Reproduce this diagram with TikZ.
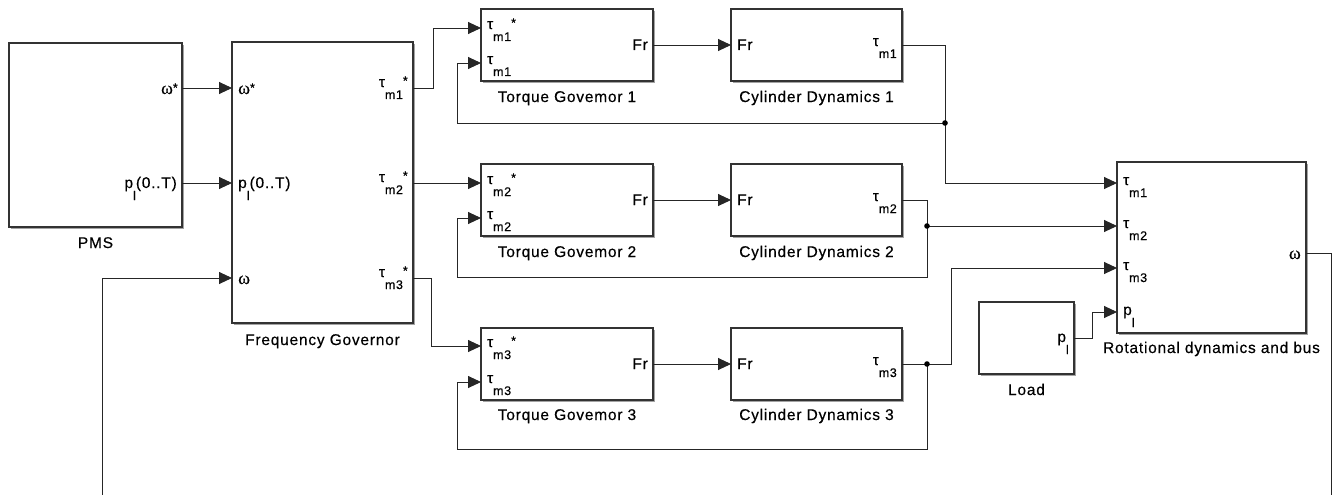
\documentclass[tikz,border=0pt]{standalone}
\usepackage{fontspec}
\setmainfont[LetterSpace=5,FakeBold=0.35]{Liberation Sans}
\newfontfamily\grk[FakeBold=0.35]{Liberation Serif}
\usetikzlibrary{arrows.meta,shadows}
\newcommand\sbx[1]{\raisebox{-12pt}{\fontsize{12.5}{12.5}\selectfont #1}}
\newcommand\spx[1]{\raisebox{2pt}{\fontsize{12.5}{12.5}\selectfont #1}}
\newcommand\tport[2]{{\fontsize{15}{15}\selectfont τ}\sbx{m#1}#2}
\newcommand\omg{{\grk\fontsize{18}{18}\selectfont ω}}
\newcommand\wstar{\omg\spx{*}}
\newcommand\mkblk[5]{\node[blk, anchor=north west, minimum width={#4-#2}, minimum height={#5-#3}] (#1) at (#2,#3) {};}
\begin{document}
\begin{tikzpicture}[x=1pt,y=-1pt,
  font=\fontsize{15.5}{18}\selectfont,
  blk/.style={draw=black!80, line width=1.3pt, fill=white, inner sep=0pt, outer sep=0pt,
    drop shadow={shadow xshift=1.6pt, shadow yshift=-1.6pt, fill=black!60, opacity=0.6}},
  inl/.style={anchor=base west, inner sep=0pt},
  outl/.style={anchor=base east, inner sep=0pt},
  caption/.style={anchor=base, inner sep=0pt},
  wire/.style={line width=0.9pt, draw=black!85},
  arr/.style={wire, -{Triangle[length=13pt,width=12pt]}},
  dot/.style={fill=black}]
\fill[white] (0,0) rectangle (1333,495);
\useasboundingbox (0,0) rectangle (1333,495);

% blocks
\mkblk{pms}{9}{43}{182}{227}
\mkblk{fg}{232}{42}{413}{323}
\mkblk{tg1}{481}{9}{653}{81}
\mkblk{cd1}{731}{9}{902}{81}
\mkblk{tg2}{481}{164}{653}{236}
\mkblk{cd2}{731}{164}{902}{236}
\mkblk{tg3}{481}{328}{653}{400}
\mkblk{cd3}{731}{328}{902}{400}
\mkblk{load}{979}{302}{1074}{374}
\mkblk{rd}{1117}{162}{1306}{333}

% captions
\node[caption] (cpms) at (95.5,248) {PMS};
\node[caption] (cfg) at (322.5,345) {Frequency Governor};
\node[caption] (ctg1) at (567,102) {Torque Govemor 1};
\node[caption] (ccd1) at (816.5,102) {Cylinder Dynamics 1};
\node[caption] (ctg2) at (567,257) {Torque Govemor 2};
\node[caption] (ccd2) at (816.5,257) {Cylinder Dynamics 2};
\node[caption] (ctg3) at (567,420) {Torque Govemor 3};
\node[caption] (ccd3) at (816.5,420) {Cylinder Dynamics 3};
\node[caption] (cload) at (1026.5,395) {Load};
\node[caption] (crd) at (1211.5,353) {Rotational dynamics and bus};

% port labels
\node[outl] (pmso1) at (178,94) {\wstar};
\node[outl] (pmso2) at (177,188) {p\sbx{l}(0..T)};
\node[inl] (fgi1) at (238,94) {\wstar};
\node[inl] (fgi2) at (238,188) {p\sbx{l}(0..T)};
\node[inl] (fgi3) at (238,284) {\omg};
\node[outl] (fgo1) at (408,87) {\tport{1}{\spx{*}}};
\node[outl] (fgo2) at (408,182) {\tport{2}{\spx{*}}};
\node[outl] (fgo3) at (408,277) {\tport{3}{\spx{*}}};
\node[inl] (tg1i1) at (487,29) {\tport{1}{\spx{*}}};
\node[inl] (tg1i2) at (487,64) {\tport{1}{}};
\node[outl] (tg1o) at (648,50) {Fr};
\node[inl] (cd1i) at (737,50) {Fr};
\node[outl] (cd1o) at (897,46) {\tport{1}{}};
\node[inl] (tg2i1) at (487,184) {\tport{2}{\spx{*}}};
\node[inl] (tg2i2) at (487,219) {\tport{2}{}};
\node[outl] (tg2o) at (648,205) {Fr};
\node[inl] (cd2i) at (737,205) {Fr};
\node[outl] (cd2o) at (897,201) {\tport{2}{}};
\node[inl] (tg3i1) at (487,347) {\tport{3}{\spx{*}}};
\node[inl] (tg3i2) at (487,383) {\tport{3}{}};
\node[outl] (tg3o) at (648,369) {Fr};
\node[inl] (cd3i) at (737,369) {Fr};
\node[outl] (cd3o) at (897,365) {\tport{3}{}};
\node[outl] (loado) at (1069,342) {p\sbx{l}};
\node[inl] (rdi1) at (1123,185) {\tport{1}{}};
\node[inl] (rdi2) at (1123,228) {\tport{2}{}};
\node[inl] (rdi3) at (1123,270) {\tport{3}{}};
\node[inl] (rdi4) at (1123,315) {p\sbx{l}};
\node[outl] (rdo) at (1301,259) {\omg};

% junctions and free ends
\coordinate (j1) at (945,123);
\coordinate (j2) at (927,226);
\coordinate (j3) at (927,364);
\coordinate (wtop) at (102,495);
\coordinate (wbot) at (1331,495);

% connectors
\draw[arr] (pms.east |- 0,88) -- (fg.west |- 0,88);
\draw[arr] (pms.east |- 0,183) -- (fg.west |- 0,183);
\draw[arr] (wtop) -- (102,278) -- (fg.west |- 0,278);
\draw[wire] (rd.east |- 0,253) -- (1331,253) -- (wbot);
\draw[arr] (fg.east |- 0,88) -- (433,88) -- (433,28) -- (tg1.west |- 0,28);
\draw[arr] (fg.east |- 0,183) -- (tg2.west |- 0,183);
\draw[arr] (fg.east |- 0,278) -- (431,278) -- (431,346) -- (tg3.west |- 0,346);
\draw[arr] (tg1.east) -- (cd1.west);
\draw[arr] (tg2.east) -- (cd2.west);
\draw[arr] (tg3.east) -- (cd3.west);
\draw[wire] (cd1.east) -- (j1 |- cd1.east) -- (j1);
\draw[arr] (j1) -- (945,183) -- (rd.west |- 0,183);
\draw[arr] (j1) -- (457,123) -- (457,63) -- (tg1.west |- 0,63);
\draw[wire] (cd2.east) -- (j2 |- cd2.east) -- (j2);
\draw[arr] (j2) -- (rd.west |- j2);
\draw[arr] (j2) -- (927,277) -- (457,277) -- (457,218) -- (tg2.west |- 0,218);
\draw[wire] (cd3.east) -- (j3);
\draw[arr] (j3) -- (951,364) -- (951,268) -- (rd.west |- 0,268);
\draw[arr] (j3) -- (927,449) -- (457,449) -- (457,382) -- (tg3.west |- 0,382);
\draw[arr] (load.east |- 0,338) -- (1092,338) -- (1092,312) -- (rd.west |- 0,312);
\fill[dot] (j1) circle (2.8pt);
\fill[dot] (j2) circle (2.8pt);
\fill[dot] (j3) circle (2.8pt);
\end{tikzpicture}
\end{document}
